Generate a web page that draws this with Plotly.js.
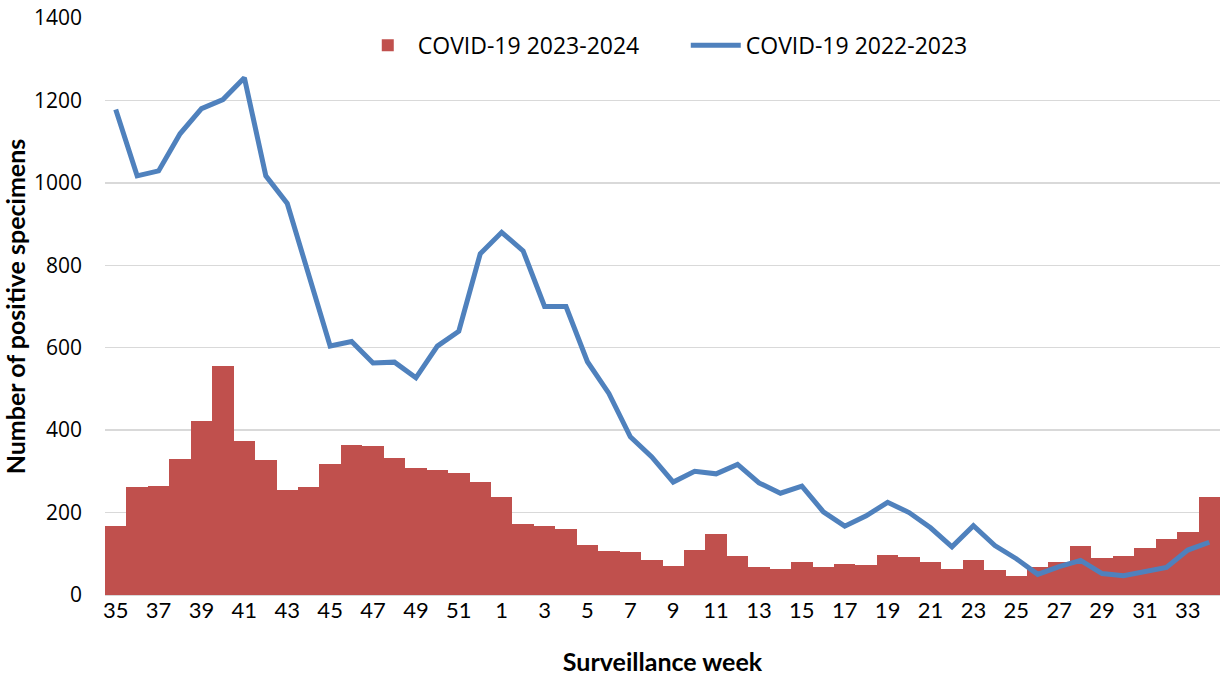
<!DOCTYPE html>
<html>
<head>
<meta charset="utf-8">
<script src="https://cdn.plot.ly/plotly-3.0.1.min.js"></script>
<style>html,body{margin:0;padding:0;background:#fff;}#chart{width:1221px;height:677px;}</style>
</head>
<body>
<div id="chart"></div>
<script>
const weeks = ["35","36","37","38","39","40","41","42","43","44","45","46","47","48","49","50","51","52",
  "1","2","3","4","5","6","7","8","9","10","11","12","13","14","15","16","17","18","19","20",
  "21","22","23","24","25","26","27","28","29","30","31","32","33","34"];
const covid2324 = [167,261,265,331,422,556,373,327,255,263,318,363,362,332,308,303,297,275,
  237,172,168,160,121,107,105,84,71,109,148,95,67,64,80,67,75,72,98,92,
  80,64,84,60,46,67,79,120,91,95,115,137,153,237];
const covid2223 = [1178,1017,1029,1119,1180,1202,1255,1017,950,775,604,615,563,565,527,604,640,828,
  880,835,700,700,566,489,384,335,274,300,294,317,272,247,264,202,167,192,225,200,
  163,117,168,120,88,50,69,84,52,47,58,67,109,128];
const tickWeeks = ["35","37","39","41","43","45","47","49","51","1","3","5","7","9","11","13","15","17","19","21","23","25","27","29","31","33"];

const xIdx = weeks.map((w,i)=>i);
const tickVals = tickWeeks.map(t => weeks.indexOf(t));

const data = [
  {type:"bar", x:xIdx, y:covid2324, name:"COVID-19 2023-2024",
   marker:{color:"#C0504D", line:{width:0}}, hoverinfo:"y"},
  {type:"scatter", mode:"lines", x:xIdx, y:covid2223, name:"COVID-19 2022-2023",
   line:{color:"#4F81BD", width:5}, hoverinfo:"y"}
];
const layout = {
  width:1221, height:677,
  margin:{l:105, r:1, t:18, b:82},
  paper_bgcolor:"#fff", plot_bgcolor:"#fff",
  bargap:0,
  showlegend:true,
  legend:{orientation:"h", x:0.2267, xanchor:"left", y:0.99, yanchor:"top",
    font:{family:"Open Sans", size:23, color:"#000"}, bgcolor:"rgba(0,0,0,0)", traceorder:"normal",
    itemwidth:50, entrywidth:263},
  xaxis:{range:[-0.5, weeks.length-0.5], tickmode:"array", tickvals:tickVals, ticktext:tickWeeks,
    showgrid:false, zeroline:false, showline:false, ticks:"",
    tickfont:{family:"Lato", size:22, color:"#000"},
    title:{text:"Surveillance week", font:{family:"Lato", size:25, color:"#000", weight:"bold"}, standoff:31}},
  yaxis:{range:[0,1400], dtick:200, showgrid:true, gridcolor:"#D9D9D9", gridwidth:1.5,
    zeroline:true, zerolinecolor:"#D9D9D9", zerolinewidth:1.5, showline:false, ticks:"",
    ticklabelstandoff:22,
    tickfont:{family:"Open Sans", size:21, color:"#000"},
    title:{text:"Number of positive specimens", font:{family:"Lato", size:25, color:"#000", weight:"bold"}, standoff:6}}
};
Plotly.newPlot("chart", data, layout, {displayModeBar:false, staticPlot:true});
</script>
</body>
</html>
